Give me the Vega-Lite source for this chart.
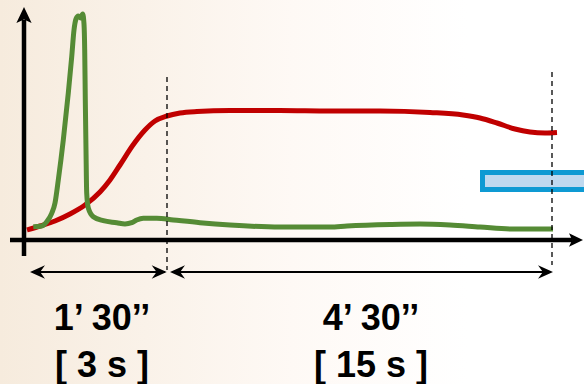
{
  "$schema": "https://vega.github.io/schema/vega-lite/v6.json",
  "width": 584,
  "height": 384,
  "autosize": {"type": "fit", "contains": "padding"},
  "padding": 0,
  "background": "white",
  "config": {"view": {"stroke": null}},
  "datasets": {
    "bg": [{"x": 0, "x2": 584, "y": 0, "y2": 384}],
    "box": [{"x": 482.5, "x2": 600, "y": 172.5, "y2": 189.5}],
    "red": [
      {"x": 27, "y": 230}, {"x": 40, "y": 226}, {"x": 55, "y": 221}, {"x": 70, "y": 214},
      {"x": 85, "y": 205}, {"x": 100, "y": 192}, {"x": 110, "y": 180}, {"x": 120, "y": 165},
      {"x": 133, "y": 145}, {"x": 145, "y": 130}, {"x": 155, "y": 121}, {"x": 167, "y": 116},
      {"x": 180, "y": 113}, {"x": 197, "y": 111.5}, {"x": 230, "y": 110.5}, {"x": 280, "y": 110.5},
      {"x": 330, "y": 111}, {"x": 380, "y": 111}, {"x": 430, "y": 112.5}, {"x": 463, "y": 115},
      {"x": 480, "y": 118}, {"x": 497, "y": 123}, {"x": 515, "y": 129}, {"x": 530, "y": 132},
      {"x": 545, "y": 133}, {"x": 557, "y": 132.5}
    ],
    "green": [
      {"x": 33.3, "y": 226.7}, {"x": 41.7, "y": 226}, {"x": 46.7, "y": 221.7}, {"x": 51.7, "y": 213.3},
      {"x": 55, "y": 203}, {"x": 58.3, "y": 180}, {"x": 63.3, "y": 140}, {"x": 68.3, "y": 93},
      {"x": 71.7, "y": 57}, {"x": 74, "y": 30}, {"x": 76, "y": 19}, {"x": 78.3, "y": 16},
      {"x": 80.7, "y": 18}, {"x": 82.7, "y": 14}, {"x": 84, "y": 24}, {"x": 84.7, "y": 50},
      {"x": 85.3, "y": 100}, {"x": 86, "y": 150}, {"x": 86.7, "y": 193}, {"x": 88.3, "y": 208},
      {"x": 93.3, "y": 216.7}, {"x": 103.3, "y": 220.7}, {"x": 116.7, "y": 222.7}, {"x": 125, "y": 224},
      {"x": 131.7, "y": 222.7}, {"x": 136.7, "y": 220}, {"x": 143.3, "y": 218.3}, {"x": 156.7, "y": 218.3},
      {"x": 173.3, "y": 220}, {"x": 200, "y": 222.7}, {"x": 230, "y": 225}, {"x": 280, "y": 227},
      {"x": 330, "y": 227}, {"x": 347, "y": 226}, {"x": 390, "y": 224.5}, {"x": 420, "y": 224},
      {"x": 450, "y": 225}, {"x": 480, "y": 227}, {"x": 513, "y": 229}, {"x": 553, "y": 229}
    ],
    "dashes": [{"x": 167, "y": 77, "y2": 270}, {"x": 552, "y": 72, "y2": 265}],
    "axes": [{"x": 10, "y": 240, "x2": 572, "y2": 240}, {"x": 24, "y": 256, "x2": 24, "y2": 20}],
    "shafts": [{"x": 32, "x2": 165, "y": 272}, {"x": 172, "x2": 551, "y": 272}],
    "headsLeft": [{"x": 37.5, "y": 272}, {"x": 177.5, "y": 272}],
    "headsRight": [{"x": 159.2, "y": 272}, {"x": 545.5, "y": 272}],
    "axisRight": [{"x": 576, "y": 240}],
    "axisUp": [{"x": 24, "y": 15}],
    "labels": [
      {"x": 102, "y": 330, "label": "1’ 30’’"},
      {"x": 102, "y": 377, "label": "[ 3 s ]"},
      {"x": 371, "y": 330, "label": "4’ 30’’"},
      {"x": 371, "y": 377, "label": "[ 15 s ]"}
    ]
  },
  "layer": [
    {
      "data": {"name": "bg"},
      "mark": {"type": "rect", "fill": {"gradient": "linear", "x1": 0, "y1": 0, "x2": 1, "y2": 0,
        "stops": [{"offset": 0, "color": "#F6EBDD"}, {"offset": 0.5, "color": "#FEF9F5"}, {"offset": 0.8, "color": "#FFFFFF"}]}},
      "encoding": {
        "x": {"field": "x", "type": "quantitative", "scale": {"domain": [0, 584], "nice": false, "zero": false}, "axis": null},
        "x2": {"field": "x2"},
        "y": {"field": "y", "type": "quantitative", "scale": {"domain": [0, 384], "nice": false, "zero": false, "reverse": true}, "axis": null},
        "y2": {"field": "y2"}
      }
    },
    {
      "data": {"name": "box"},
      "mark": {"type": "rect", "fill": "#BFD9EF", "stroke": "#0E9AD3", "strokeWidth": 5, "clip": true},
      "encoding": {
        "x": {"field": "x", "type": "quantitative", "axis": null},
        "x2": {"field": "x2"},
        "y": {"field": "y", "type": "quantitative", "axis": null},
        "y2": {"field": "y2"}
      }
    },
    {
      "data": {"name": "red"},
      "mark": {"type": "line", "color": "#C00000", "strokeWidth": 5, "interpolate": "monotone"},
      "encoding": {
        "x": {"field": "x", "type": "quantitative", "axis": null},
        "y": {"field": "y", "type": "quantitative", "axis": null}
      }
    },
    {
      "data": {"name": "green"},
      "mark": {"type": "line", "color": "#558B35", "strokeWidth": 5, "interpolate": "monotone", "strokeJoin": "round"},
      "encoding": {
        "x": {"field": "x", "type": "quantitative", "axis": null},
        "y": {"field": "y", "type": "quantitative", "axis": null}
      }
    },
    {
      "data": {"name": "dashes"},
      "mark": {"type": "rule", "color": "#000000", "strokeWidth": 1.3, "strokeDash": [5, 4]},
      "encoding": {
        "x": {"field": "x", "type": "quantitative", "axis": null},
        "y": {"field": "y", "type": "quantitative", "axis": null},
        "y2": {"field": "y2"}
      }
    },
    {
      "data": {"name": "axes"},
      "mark": {"type": "rule", "color": "#000000", "strokeWidth": 4.5},
      "encoding": {
        "x": {"field": "x", "type": "quantitative", "axis": null},
        "x2": {"field": "x2"},
        "y": {"field": "y", "type": "quantitative", "axis": null},
        "y2": {"field": "y2"}
      }
    },
    {
      "data": {"name": "axisRight"},
      "mark": {"type": "point", "filled": true, "color": "#000000", "opacity": 1, "size": 196, "shape": "M1,0L-1,-0.95L-0.55,0L-1,0.95Z"},
      "encoding": {
        "x": {"field": "x", "type": "quantitative", "axis": null},
        "y": {"field": "y", "type": "quantitative", "axis": null}
      }
    },
    {
      "data": {"name": "axisUp"},
      "mark": {"type": "point", "filled": true, "color": "#000000", "opacity": 1, "size": 256, "shape": "M0,-1L0.95,1L0,0.55L-0.95,1Z"},
      "encoding": {
        "x": {"field": "x", "type": "quantitative", "axis": null},
        "y": {"field": "y", "type": "quantitative", "axis": null}
      }
    },
    {
      "data": {"name": "shafts"},
      "mark": {"type": "rule", "color": "#000000", "strokeWidth": 2},
      "encoding": {
        "x": {"field": "x", "type": "quantitative", "axis": null},
        "x2": {"field": "x2"},
        "y": {"field": "y", "type": "quantitative", "axis": null}
      }
    },
    {
      "data": {"name": "headsLeft"},
      "mark": {"type": "point", "filled": true, "color": "#000000", "opacity": 1, "size": 225, "shape": "M-1,0L1,-0.9L0.35,0L1,0.9Z"},
      "encoding": {
        "x": {"field": "x", "type": "quantitative", "axis": null},
        "y": {"field": "y", "type": "quantitative", "axis": null}
      }
    },
    {
      "data": {"name": "headsRight"},
      "mark": {"type": "point", "filled": true, "color": "#000000", "opacity": 1, "size": 225, "shape": "M1,0L-1,-0.9L-0.35,0L-1,0.9Z"},
      "encoding": {
        "x": {"field": "x", "type": "quantitative", "axis": null},
        "y": {"field": "y", "type": "quantitative", "axis": null}
      }
    },
    {
      "data": {"name": "labels"},
      "mark": {"type": "text", "font": "Liberation Sans", "fontSize": 36, "fontWeight": "bold", "color": "#000000", "align": "center", "baseline": "alphabetic"},
      "encoding": {
        "x": {"field": "x", "type": "quantitative", "axis": null},
        "y": {"field": "y", "type": "quantitative", "axis": null},
        "text": {"field": "label", "type": "nominal"}
      }
    }
  ]
}
